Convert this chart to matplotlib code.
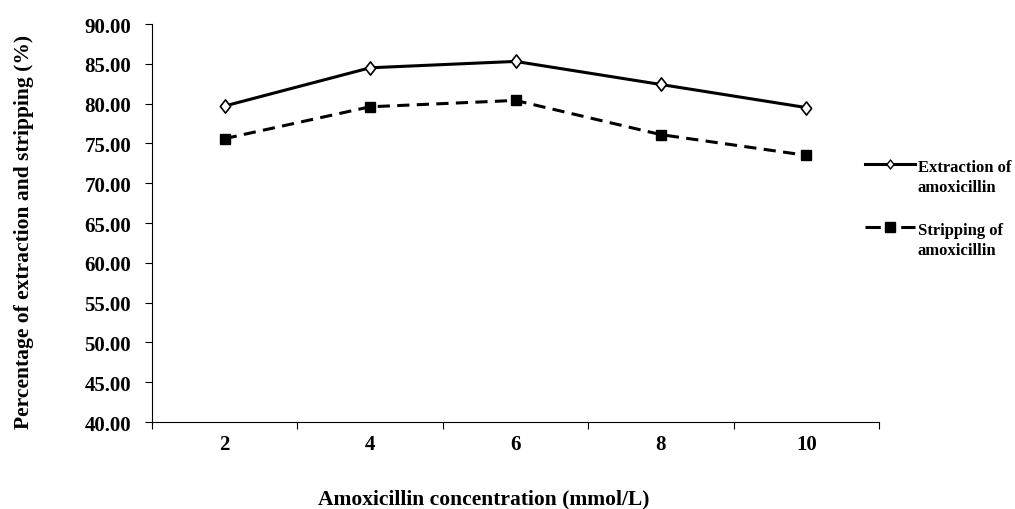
import matplotlib
matplotlib.use("Agg")
import matplotlib.pyplot as plt
from matplotlib.ticker import FixedLocator, NullFormatter
from matplotlib.lines import Line2D
from matplotlib.path import Path

categories = ["2", "4", "6", "8", "10"]
extraction = [79.7, 84.5, 85.3, 82.4, 79.5]
stripping = [75.6, 79.6, 80.4, 76.1, 73.5]
yticks = [40, 45, 50, 55, 60, 65, 70, 75, 80, 85, 90]
series_labels = [("Extraction of", "amoxicillin"), ("Stripping of", "amoxicillin")]

plt.rcParams['font.family'] = ['Liberation Serif', 'DejaVu Serif']
plt.rcParams['font.weight'] = 'bold'

W, H = 1015, 510
fig = plt.figure(figsize=(W / 100, H / 100), dpi=100)
ax = fig.add_axes([152 / W, 1 - 423 / H, 727 / W, 398 / H])

diamond = Path([(0, 1), (0.78, 0), (0, -1), (-0.78, 0), (0, 1)], closed=True)
dash = (0, (4.0, 2.4))

x = list(range(len(categories)))
ax.plot(x, extraction, color='black', lw=2.2, marker=diamond, markersize=9.5,
        markerfacecolor='white', markeredgecolor='black', markeredgewidth=1.2, zorder=3)
ax.plot(x, stripping, color='black', lw=2.2, ls=dash, marker='s', markersize=7.8,
        markerfacecolor='black', markeredgecolor='black', zorder=3)

ax.set_xlim(-0.5, len(categories) - 0.5)
ax.set_ylim(40, 90)
ax.set_yticks(yticks)
ax.set_yticklabels([f"{v:.2f}" for v in yticks], fontsize=15, fontweight='bold')
ax.set_xticks(x)
ax.set_xticklabels(categories, fontsize=15, fontweight='bold')
ax.tick_params(axis='x', which='major', length=0, pad=9)
ax.xaxis.set_minor_locator(FixedLocator([i + 0.5 for i in range(-1, len(categories))]))
ax.xaxis.set_minor_formatter(NullFormatter())
ax.tick_params(axis='x', which='minor', length=5, direction='out', width=0.8)
ax.tick_params(axis='y', length=5, direction='out', width=0.8, pad=10)
for s in ['top', 'right']:
    ax.spines[s].set_visible(False)
for s in ['left', 'bottom']:
    ax.spines[s].set_linewidth(0.8)

ax.set_ylabel("Percentage of extraction and stripping (%)", fontsize=15.5, fontweight='bold')
ax.yaxis.set_label_coords(-0.162, 0.479)
ax.set_xlabel("Amoxicillin concentration (mmol/L)", fontsize=15.5, fontweight='bold')
ax.xaxis.set_label_coords(0.457, -0.168)

# legend drawn manually (Excel-style: handle aligned with first text line)
def px(xp, yp):
    return xp / W, 1 - yp / H

for i, (lab, ly, styl) in enumerate([
        (series_labels[0], 165, dict(ls='-', marker=diamond, markersize=6.5, markerfacecolor='white',
                                     markeredgewidth=1.0)),
        (series_labels[1], 228, dict(ls=(0, (5, 6.7)), marker='s', markersize=6.5,
                                     markerfacecolor='black'))]):
    x0, y0 = px(865, ly)
    x1, _ = px(890, ly)
    x2, _ = px(915, ly)
    fig.add_artist(Line2D([x0, x1, x2], [y0, y0, y0], transform=fig.transFigure, color='black',
                          lw=2.2, markevery=[1], markeredgecolor='black', **styl))
    tx, ty1 = px(918, ly + 7)
    _, ty2 = px(918, ly + 27)
    fig.text(tx, ty1, lab[0], fontsize=12, fontweight='bold', va='baseline', ha='left')
    fig.text(tx, ty2, lab[1], fontsize=12, fontweight='bold', va='baseline', ha='left')

fig.savefig("out.png", dpi=100)
